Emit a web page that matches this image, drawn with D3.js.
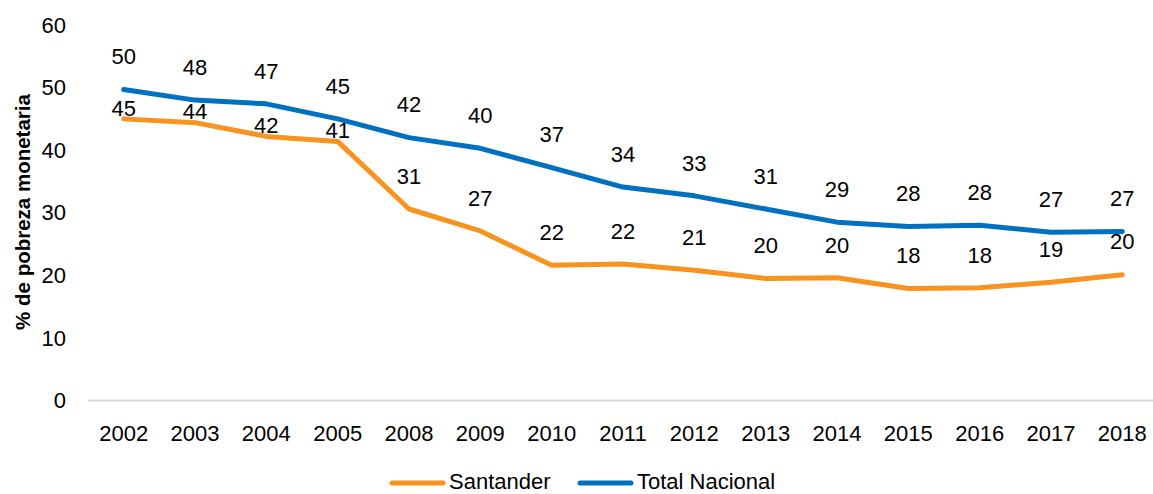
<!DOCTYPE html>
<html>
<head>
<meta charset="utf-8">
<script src="https://cdn.jsdelivr.net/npm/d3@7/dist/d3.min.js"></script>
<style>
  html, body { margin: 0; padding: 0; background: #fff; }
  svg { display: block; font-family: "Liberation Sans", Arial, sans-serif; }
</style>
</head>
<body>
<svg id="chart" width="1153" height="494"></svg>
<script>
const years = ["2002","2003","2004","2005","2008","2009","2010","2011","2012","2013","2014","2015","2016","2017","2018"];
const santander = [45.0, 44.4, 42.2, 41.4, 30.6, 27.1, 21.6, 21.8, 20.8, 19.5, 19.6, 17.9, 18.0, 18.9, 20.1];
const totalNacional = [49.7, 48.0, 47.4, 45.0, 42.0, 40.3, 37.2, 34.1, 32.7, 30.6, 28.5, 27.8, 28.0, 26.9, 27.0];
const yTicks = [0, 10, 20, 30, 40, 50, 60];
const seriesNames = ["Santander", "Total Nacional"];
const colors = ["#F7931E", "#0070C0"];

const svg = d3.select("#chart");
const x = d3.scaleBand().domain(years).range([88, 1158]);
const y = d3.scaleLinear().domain([0, 60]).range([400.5, 25]);
const cx = d => x(d) + x.bandwidth() / 2;
const FS = 22;

// y tick labels
svg.append("g").selectAll("text").data(yTicks).join("text")
  .attr("x", 66).attr("y", d => y(d)).attr("dy", "0.35em")
  .attr("text-anchor", "end").attr("font-size", FS).attr("fill", "#000")
  .text(d => d);

// baseline axis
svg.append("line").attr("x1", 88).attr("x2", 1158)
  .attr("y1", y(0)).attr("y2", y(0))
  .attr("stroke", "#d9d9d9").attr("stroke-width", 2);

// x labels
svg.append("g").selectAll("text").data(years).join("text")
  .attr("x", d => cx(d)).attr("y", 433).attr("dy", "0.35em")
  .attr("text-anchor", "middle").attr("font-size", FS).attr("fill", "#000")
  .text(d => d);

// y title
svg.append("text")
  .attr("transform", "translate(23,212) rotate(-90)")
  .attr("dy", "0.35em")
  .attr("text-anchor", "middle").attr("font-size", 20.5).attr("font-weight", "bold")
  .attr("fill", "#000")
  .text("% de pobreza monetaria");

const line = d3.line().x((d, i) => cx(years[i])).y(d => y(d));
const allSeries = [santander, totalNacional];

allSeries.forEach((vals, si) => {
  svg.append("path").datum(vals)
    .attr("d", line).attr("fill", "none")
    .attr("stroke", colors[si]).attr("stroke-width", 5)
    .attr("stroke-linejoin", "round").attr("stroke-linecap", "round");
});

allSeries.forEach((vals, si) => {
  svg.append("g").selectAll("text").data(vals).join("text")
    .attr("x", (d, i) => cx(years[i]))
    .attr("y", (d, i) => y(d) - ((si === 0 && i < 4) ? 11 : 33))
    .attr("dy", "0.35em").attr("text-anchor", "middle")
    .attr("font-size", FS).attr("fill", "#000")
    .text(d => Math.round(d));
});

// legend
const LY = 481;
const legendItems = [{name: seriesNames[0], x: 390}, {name: seriesNames[1], x: 578}];
legendItems.forEach((it, i) => {
  svg.append("line").attr("x1", it.x + 2).attr("x2", it.x + 53)
    .attr("y1", LY + 2).attr("y2", LY + 2)
    .attr("stroke", colors[i]).attr("stroke-width", 5).attr("stroke-linecap", "round");
  svg.append("text").attr("x", it.x + 59).attr("y", LY).attr("dy", "0.35em")
    .attr("font-size", FS).attr("fill", "#000").text(it.name);
});
</script>
</body>
</html>
